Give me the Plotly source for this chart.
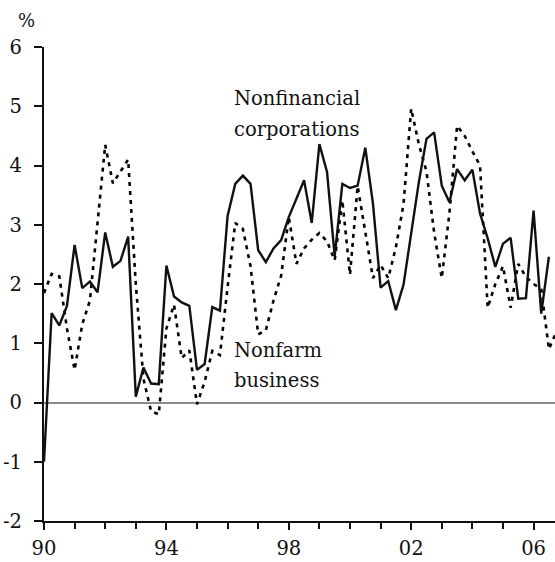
import plotly.graph_objects as go

# Quarterly observations, 1990Q1 onward
start_year = 1990
nonfin_corp = [
    -1.00, 1.51, 1.30, 1.63, 2.66, 1.93, 2.04, 1.86, 2.87, 2.29,
    2.39, 2.80, 0.10, 0.59, 0.32, 0.31, 2.31, 1.79, 1.69, 1.63,
    0.55, 0.65, 1.61, 1.55, 3.15, 3.69, 3.83, 3.69, 2.57, 2.37,
    2.60, 2.74, 3.13, 3.44, 3.75, 3.03, 4.36, 3.89, 2.47, 3.69,
    3.62, 3.66, 4.30, 3.36, 1.94, 2.05, 1.56, 1.99, 2.88, 3.72,
    4.45, 4.56, 3.66, 3.38, 3.94, 3.75, 3.93, 3.19, 2.77, 2.29,
    2.68, 2.78, 1.75, 1.76, 3.24, 1.50, 2.46,
]
nonfarm_bus = [
    1.85, 2.17, 2.13, 1.25, 0.55, 1.32, 1.72, 3.00, 4.35, 3.70,
    3.90, 4.10, 2.00, 0.40, -0.15, -0.20, 1.25, 1.65, 0.75, 0.88,
    -0.03, 0.35, 0.87, 0.80, 1.95, 3.03, 2.93, 2.30, 1.15, 1.22,
    1.72, 2.14, 3.13, 2.34, 2.60, 2.75, 2.86, 2.72, 2.40, 3.41,
    2.16, 3.65, 2.88, 2.10, 2.32, 2.10, 2.62, 3.35, 4.96, 4.36,
    3.90, 2.87, 2.10, 3.20, 4.67, 4.50, 4.24, 4.00, 1.60, 2.00,
    2.30, 1.60, 2.34, 2.12, 2.00, 1.92, 0.90, 1.20,
]
x_tick_vals = [1990, 1994, 1998, 2002, 2006]
x_tick_text = ["90", "94", "98", "02", "06"]
y_tick_vals = [-2, -1, 0, 1, 2, 3, 4, 5, 6]
y_tick_text = ["-2", "-1", "0", "1", "2", "3", "4", "5", "6"]

label_corp_lines = ["Nonfinancial", "corporations"]
label_corp_y = [5.13, 4.61]
label_farm_lines = ["Nonfarm", "business"]
label_farm_y = [0.88, 0.37]
label_x = 1996.15

x_corp = [start_year + i / 4 for i in range(len(nonfin_corp))]
x_farm = [start_year + i / 4 for i in range(len(nonfarm_bus))]

FONT = "DejaVu Serif"
INK = "#111111"
TXT = 19.5

fig = go.Figure()
fig.add_trace(go.Scatter(
    x=x_farm, y=nonfarm_bus, mode="lines", name="Nonfarm business",
    line=dict(color="black", width=2.6, dash="4px,5px"),
))
fig.add_trace(go.Scatter(
    x=x_corp, y=nonfin_corp, mode="lines", name="Nonfinancial corporations",
    line=dict(color=INK, width=2.4),
))

for txt, yy in list(zip(label_corp_lines, label_corp_y)) + list(zip(label_farm_lines, label_farm_y)):
    fig.add_annotation(x=label_x, y=yy, xref="x", yref="y", text=txt,
                       showarrow=False, xanchor="left", yanchor="middle",
                       align="left", font=dict(family=FONT, size=TXT, color=INK))

fig.add_annotation(x=(26 - 44) / 511, y=1 + (46.5 - 20) / 474.5,
                   xref="paper", yref="paper", text="%", showarrow=False,
                   xanchor="center", yanchor="middle",
                   font=dict(family=FONT, size=18, color=INK))

fig.update_layout(
    width=555, height=562,
    margin=dict(l=44, r=0, t=46.5, b=41, pad=0),
    plot_bgcolor="white", paper_bgcolor="white",
    showlegend=False,
    font=dict(family=FONT, size=TXT, color=INK),
    xaxis=dict(
        range=[1990, 2006.7], showgrid=False, zeroline=False,
        showline=True, linecolor=INK, linewidth=2.2, automargin=False,
        tickmode="array", tickvals=x_tick_vals, ticktext=x_tick_text,
        ticks="outside", ticklen=7, tickwidth=2, tickcolor=INK,
        ticklabelstandoff=1,
        minor=dict(ticks="outside", dtick=1, tick0=1990, ticklen=6,
                   tickwidth=2, tickcolor=INK, showgrid=False),
        tickfont=dict(family=FONT, size=TXT, color=INK),
    ),
    yaxis=dict(
        range=[-2, 6], showgrid=False, automargin=False,
        zeroline=True, zerolinecolor="#8a8a8a", zerolinewidth=1.6,
        showline=True, linecolor=INK, linewidth=2.2,
        tickmode="array", tickvals=y_tick_vals, ticktext=y_tick_text,
        ticks="outside", ticklen=8, tickwidth=2, tickcolor=INK,
        ticklabelstandoff=8,
        tickfont=dict(family=FONT, size=TXT, color=INK),
    ),
)

fig.write_html(
    "out.html",
    config={"displayModeBar": False},
    post_script="document.body.style.margin='0';document.body.style.padding='0';"
                "document.documentElement.style.overflow='hidden';",
)
